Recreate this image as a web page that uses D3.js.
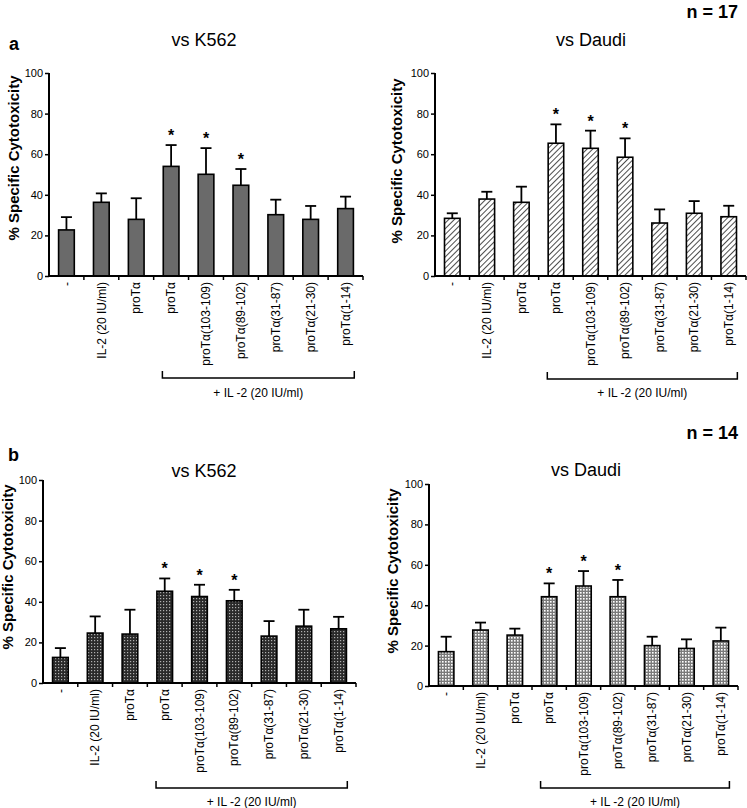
<!DOCTYPE html>
<html><head><meta charset="utf-8">
<script src="https://cdn.jsdelivr.net/npm/d3@7"></script>
<style>
body{margin:0;background:#fff;}
svg text{font-family:"Liberation Sans",Arial,sans-serif;fill:#000;}
</style></head>
<body><svg id="c" width="747" height="808"></svg>
<script>
const categories = ["-", "IL-2 (20 IU/ml)", "proTα", "proTα", "proTα(103-109)", "proTα(89-102)", "proTα(31-87)", "proTα(21-30)", "proTα(1-14)"];
const significant = [false, false, false, true, true, true, false, false, false];
const yTicks = [0, 20, 40, 60, 80, 100];

const k562N17 = [22.7, 36.3, 27.9, 54.0, 50.1, 44.7, 30.2, 27.9, 33.2];
const k562N17Err = [6.3, 4.4, 10.4, 10.5, 12.9, 8.0, 7.4, 6.6, 5.9];
const daudiN17 = [28.4, 37.9, 36.3, 65.4, 62.9, 58.5, 26.1, 30.9, 29.2];
const daudiN17Err = [2.5, 3.6, 7.7, 9.3, 8.7, 9.3, 6.7, 6.0, 5.4];
const k562N14 = [12.6, 24.6, 24.1, 45.2, 42.6, 40.5, 23.1, 28.0, 26.7];
const k562N14Err = [4.6, 8.2, 12.0, 6.3, 5.8, 5.4, 7.4, 8.1, 5.9];
const daudiN14 = [17.0, 27.7, 25.2, 44.2, 49.5, 44.2, 20.0, 18.6, 22.3];
const daudiN14Err = [7.4, 3.7, 3.2, 6.6, 7.4, 8.3, 4.4, 4.5, 6.6];

const svg = d3.select("#c");
const defs = svg.append("defs");
const ph = defs.append("pattern").attr("id","hatch").attr("patternUnits","userSpaceOnUse")
  .attr("width",4).attr("height",4).attr("patternTransform","rotate(45)");
ph.append("rect").attr("width",4).attr("height",4).attr("fill","#fff");
ph.append("line").attr("x1",0).attr("y1",0).attr("x2",0).attr("y2",4).attr("stroke","#000").attr("stroke-width",1.4);
const pd = defs.append("pattern").attr("id","darkdots").attr("patternUnits","userSpaceOnUse").attr("width",3).attr("height",3);
pd.append("rect").attr("width",3).attr("height",3).attr("fill","#2a2a2a");
pd.append("rect").attr("x",1).attr("y",1).attr("width",1.2).attr("height",1.2).attr("fill","#b0b0b0");
const pl = defs.append("pattern").attr("id","lightdots").attr("patternUnits","userSpaceOnUse").attr("width",3).attr("height",3);
pl.append("rect").attr("width",3).attr("height",3).attr("fill","#7a7a7a");
pl.append("rect").attr("x",1).attr("y",1).attr("width",1.6).attr("height",1.6).attr("fill","#fff");

const panels = [
  {vals:k562N17, err:k562N17Err, fill:"#6a6a6a", x0:49, x1:363, yT:73, yB:276, title:"vs K562", tx:204, ty:46, labX:19, labY:158, brY:378, brLabY:397},
  {vals:daudiN17, err:daudiN17Err, fill:"url(#hatch)", x0:435, x1:746, yT:73, yB:276, title:"vs Daudi", tx:591, ty:46, labX:402, labY:161, brY:379, brLabY:397},
  {vals:k562N14, err:k562N14Err, fill:"url(#darkdots)", x0:43, x1:356, yT:480, yB:683, title:"vs K562", tx:204, ty:477, labX:13, labY:567, brY:788, brLabY:806},
  {vals:daudiN14, err:daudiN14Err, fill:"url(#lightdots)", x0:429, x1:738, yT:484, yB:686, title:"vs Daudi", tx:586, ty:476, labX:398, labY:571, brY:788, brLabY:806}
];

panels.forEach(p => {
  const g = svg.append("g");
  const x = d3.scaleBand().domain(d3.range(categories.length)).range([p.x0, p.x1]).paddingInner(0).paddingOuter(0);
  const y = d3.scaleLinear().domain([0,100]).range([p.yB, p.yT]);
  const bw = x.bandwidth();
  const barW = bw*0.45;

  g.append("text").attr("x",p.tx).attr("y",p.ty).attr("text-anchor","middle").attr("font-size",18).text(p.title);
  g.append("text").attr("transform",`translate(${p.labX},${p.labY}) rotate(-90)`).attr("text-anchor","middle")
    .attr("font-size",15).attr("font-weight","bold").text("% Specific Cytotoxicity");

  g.selectAll("rect.bar").data(p.vals).join("rect").attr("class","bar")
    .attr("x",(d,i)=>x(i)+bw/2-barW/2).attr("y",d=>y(d)).attr("width",barW).attr("height",d=>y(0)-y(d))
    .attr("fill",p.fill).attr("stroke","#000").attr("stroke-width",1.6);
  const eg = g.selectAll("g.err").data(p.vals).join("g").attr("class","err");
  eg.append("line").attr("x1",(d,i)=>x(i)+bw/2).attr("x2",(d,i)=>x(i)+bw/2)
    .attr("y1",d=>y(d)).attr("y2",(d,i)=>y(d+p.err[i])).attr("stroke","#000").attr("stroke-width",1.8);
  eg.append("line").attr("x1",(d,i)=>x(i)+bw/2-5.5).attr("x2",(d,i)=>x(i)+bw/2+5.5)
    .attr("y1",(d,i)=>y(d+p.err[i])).attr("y2",(d,i)=>y(d+p.err[i])).attr("stroke","#000").attr("stroke-width",1.8);
  g.selectAll("text.star").data(p.vals.map((d,i)=>({d,i})).filter(o=>significant[o.i])).join("text").attr("class","star")
    .attr("x",o=>x(o.i)+bw/2).attr("y",o=>y(o.d+p.err[o.i])-4).attr("text-anchor","middle")
    .attr("font-size",16).attr("font-weight","bold").text("*");

  const ya = g.append("g").attr("transform",`translate(${p.x0},0)`)
    .call(d3.axisLeft(y).tickValues(yTicks).tickSize(4).tickPadding(2).tickFormat(d3.format("d")));
  ya.select(".domain").attr("stroke","#000").attr("stroke-width",2).attr("d",`M0,${p.yT}V${p.yB}`);
  ya.selectAll(".tick line").attr("stroke","#000").attr("stroke-width",1.5);
  ya.selectAll(".tick text").attr("font-size",11).attr("font-family","Liberation Sans, Arial, sans-serif");

  const xa = g.append("g").attr("transform",`translate(0,${p.yB})`)
    .call(d3.axisBottom(x).tickSize(0).tickFormat(i=>categories[i]));
  xa.select(".domain").attr("stroke","#000").attr("stroke-width",2).attr("d",`M${p.x0-1},0H${p.x1}`);
  xa.selectAll(".tick text").attr("font-size",12).attr("font-family","Liberation Sans, Arial, sans-serif")
    .attr("text-anchor","end").attr("transform","rotate(-90)").attr("x",-6).attr("y",0).attr("dy","0.35em");
  xa.selectAll("line.bt").data(d3.range(1,categories.length+1)).join("line").attr("class","bt")
    .attr("x1",i=>p.x0+i*bw).attr("x2",i=>p.x0+i*bw).attr("y1",0).attr("y2",4).attr("stroke","#000").attr("stroke-width",1.5);

  const bl = x(3)+bw*0.25, br = x(8)+bw*0.75;
  g.append("path").attr("d",`M${bl},${p.brY-7}V${p.brY}H${br}V${p.brY-7}`).attr("fill","none").attr("stroke","#000").attr("stroke-width",1.5);
  g.append("text").attr("x",(bl+br)/2).attr("y",p.brLabY).attr("text-anchor","middle").attr("font-size",12).text("+ IL -2 (20  IU/ml)");
});

svg.append("text").attr("x",9).attr("y",50).attr("font-size",18).attr("font-weight","bold").text("a");
svg.append("text").attr("x",8).attr("y",461).attr("font-size",18).attr("font-weight","bold").text("b");
svg.append("text").attr("x",738).attr("y",18).attr("text-anchor","end").attr("font-size",18).attr("font-weight","bold").text("n = 17");
svg.append("text").attr("x",738).attr("y",439).attr("text-anchor","end").attr("font-size",18).attr("font-weight","bold").text("n = 14");
</script></body></html>
